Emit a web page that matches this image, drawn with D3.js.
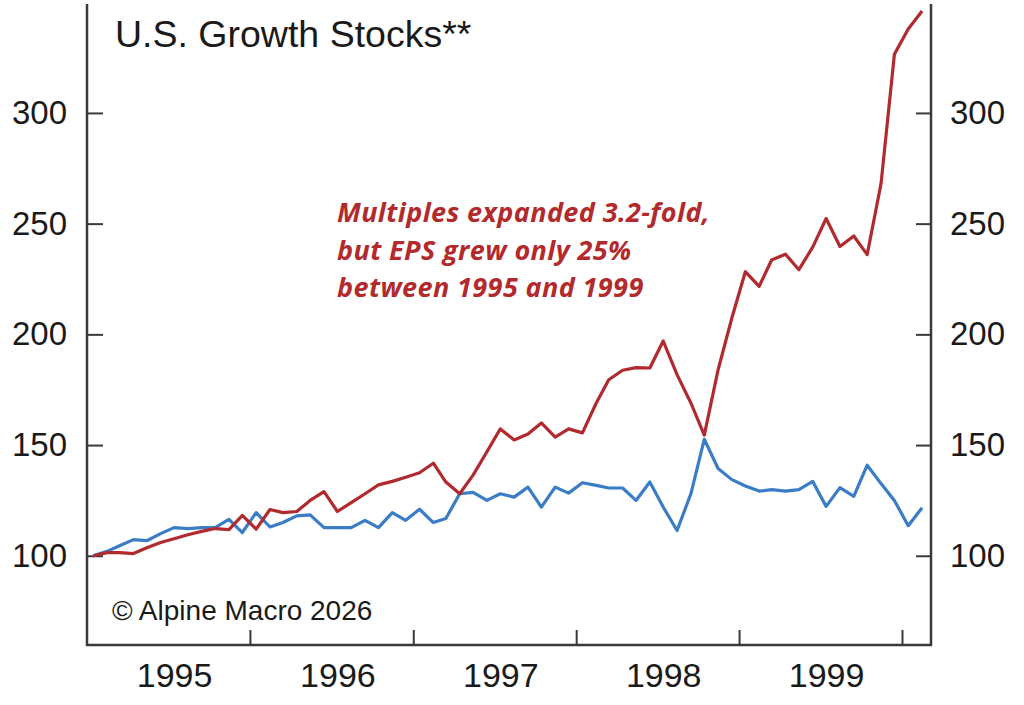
<!DOCTYPE html>
<html lang="en">
<head>
<meta charset="utf-8">
<title>U.S. Growth Stocks</title>
<script src="https://d3js.org/d3.v7.min.js"></script>
<style>
  body { margin: 0; background: #fff; }
  svg { display: block; }
  .tick text { font-family: "Liberation Sans", Arial, sans-serif; font-size: 33px; fill: #1a1a1a; }
  .years .tick text { font-size: 34px; }
  .tick line { stroke: #3a3a3a; stroke-width: 2; }
</style>
</head>
<body>
<div id="chart"></div>
<script>
// monthly index, Jan 1995 = 100, Jan 1995 .. Feb 2000
var firstMonth = new Date(1995, 0, 1);
var endMonth = new Date(2000, 2, 1);

var priceValues = [
  100, 101.4, 101.4, 101, 103.6, 106, 107.7, 109.5, 111, 112.3, 111.8, 118.2,
  112, 120.9, 119.5, 120, 125, 129, 120, 124, 128, 132, 133.6, 135.5,
  137.5, 141.8, 133.3, 128, 136.4, 147, 157.3, 152.3, 155, 160, 153.6, 157.3,
  155.5, 169, 179.5, 183.8, 185, 184.8, 197, 181.8, 169, 154.5, 184, 206.8,
  228.3, 221.7, 233.6, 236.2, 229.2, 239.4, 252.3, 239.7, 244.4, 236, 268, 326.5,
  337.9, 346
];

var epsValues = [
  100, 102, 104.5, 107.3, 106.8, 110, 112.7, 112.3, 112.7, 112.7, 116.4, 110.5,
  119.5, 113, 115, 118, 118.5, 112.7, 112.7, 112.7, 116, 112.7, 119.5, 116,
  121, 115, 116.8, 128, 128.6, 125, 128, 126.5, 131, 122, 131, 128.3,
  133, 131.8, 130.6, 130.6, 125, 133.3, 122, 111.4, 128, 152.6, 139.4, 134.5,
  131.5, 129.2, 129.9, 129.2, 129.9, 133.6, 122.3, 130.8, 126.8, 140.9, 132.6, 125,
  113.6, 121.7
];

var yTicks = [100, 150, 200, 250, 300];
var yearLabels = [1995, 1996, 1997, 1998, 1999];
var yearBreaks = [1996, 1997, 1998, 1999, 2000];

var titleText = "U.S. Growth Stocks**";
var noteLines = ["Multiples expanded 3.2-fold,", "but EPS grew only 25%", "between 1995 and 1999"];
var creditText = "\u00a9 Alpine Macro 2026";

var W = 1024, H = 705;
var margin = {top: 4, right: 93, bottom: 60, left: 87};
var width = W - margin.left - margin.right,
    height = H - margin.top - margin.bottom;

// points sit mid-month
var months = d3.timeMonth.range(firstMonth, endMonth)
  .map(function(d) { return new Date(d.getFullYear(), d.getMonth(), 15); });

var svg = d3.select("#chart")
  .append("svg")
    .attr("width", W)
    .attr("height", H)
  .append("g")
    .attr("transform", "translate(" + margin.left + "," + margin.top + ")");

var x = d3.scaleTime()
  .domain([new Date(1995, 0, 1), new Date(2000, 2, 6)])
  .range([0, width]);

var y = d3.scaleLinear()
  .domain([59.7, 349.2])
  .range([height, 0]);

// left axis
svg.append("g")
  .call(d3.axisLeft(y).tickValues(yTicks).tickSizeInner(-16).tickSizeOuter(0).tickPadding(20))
  .call(function(g) { g.select(".domain").remove(); });

// right axis
svg.append("g")
  .attr("transform", "translate(" + width + ",0)")
  .call(d3.axisRight(y).tickValues(yTicks).tickSizeInner(-15).tickSizeOuter(0).tickPadding(19))
  .call(function(g) { g.select(".domain").remove(); });

// bottom ticks at year breaks
svg.append("g")
  .attr("transform", "translate(0," + height + ")")
  .call(d3.axisBottom(x)
    .tickValues(yearBreaks.map(function(yr) { return new Date(yr, 0, 1); }))
    .tickSizeInner(-15).tickSizeOuter(0).tickFormat(""))
  .call(function(g) { g.select(".domain").remove(); });

// year labels centred in each year
svg.append("g")
  .attr("class", "years")
  .attr("transform", "translate(0," + height + ")")
  .call(d3.axisBottom(x)
    .tickValues(yearLabels.map(function(yr) { return new Date(yr, 6, 15); }))
    .tickSize(0).tickPadding(18).tickFormat(d3.timeFormat("%Y")))
  .call(function(g) { g.select(".domain").remove(); });

// frame: left, bottom, right
svg.append("path")
  .attr("d", "M0,0V" + height + "H" + width + "V0")
  .attr("fill", "none")
  .attr("stroke", "#3a3a3a")
  .attr("stroke-width", 2.5);

var line = d3.line()
  .x(function(d, i) { return x(months[i]); })
  .y(function(d) { return y(d); });

svg.append("path")
  .datum(epsValues)
  .attr("fill", "none")
  .attr("stroke", "#3a7dc6")
  .attr("stroke-width", 3.2)
  .attr("stroke-linejoin", "round")
  .attr("d", line);

svg.append("path")
  .datum(priceValues)
  .attr("fill", "none")
  .attr("stroke", "#b02a2e")
  .attr("stroke-width", 3.2)
  .attr("stroke-linejoin", "round")
  .attr("d", line);

// title
svg.append("text")
  .attr("x", 115 - margin.left)
  .attr("y", 47 - margin.top)
  .style("font-family", "'Liberation Sans', Arial, sans-serif")
  .style("font-size", "37.5px")
  .style("fill", "#1a1a1a")
  .text(titleText);

// annotation
svg.append("text")
  .attr("x", 337 - margin.left)
  .attr("y", 222 - margin.top)
  .style("font-family", "'Open Sans', sans-serif")
  .style("font-size", "27px")
  .style("font-weight", "bold")
  .style("font-style", "italic")
  .style("letter-spacing", "0.4px")
  .style("fill", "#b22a2c")
  .selectAll("tspan")
  .data(noteLines)
  .join("tspan")
    .attr("x", 337 - margin.left)
    .attr("dy", function(d, i) { return i === 0 ? 0 : 37.5; })
    .text(function(d) { return d; });

// credit
svg.append("text")
  .attr("x", 112 - margin.left)
  .attr("y", 620 - margin.top)
  .style("font-family", "'Liberation Sans', Arial, sans-serif")
  .style("font-size", "28px")
  .style("fill", "#1a1a1a")
  .text(creditText);
</script>
</body>
</html>
